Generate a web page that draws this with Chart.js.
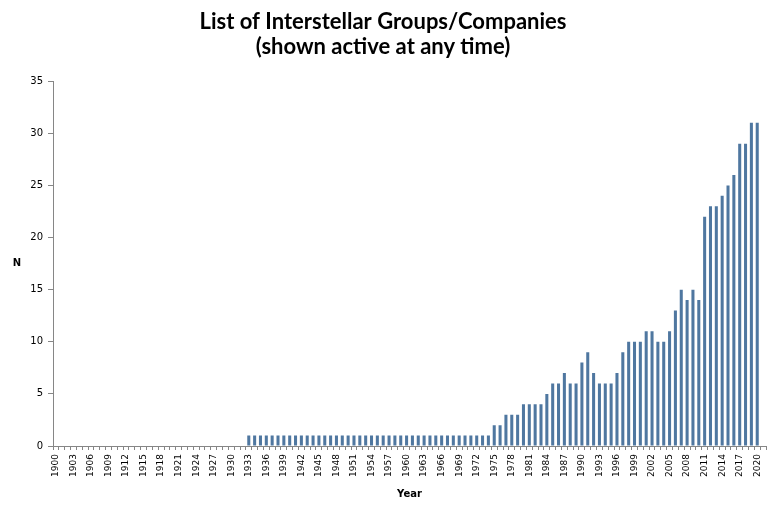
<!DOCTYPE html>
<html>
<head>
<meta charset="utf-8">
<script src="https://cdn.jsdelivr.net/npm/chart.js@4.4.1/dist/chart.umd.min.js"></script>
<style>
  html, body { margin: 0; padding: 0; background: #ffffff; }
  #wrap { width: 772px; height: 512px; }
</style>
</head>
<body>
<div id="wrap"><canvas id="myChart" width="772" height="512"></canvas></div>
<script>
// categories: one per year, 1900..2021 (last slot is empty in the original)
const firstYear = 1900;
const lastYear = 2021;
const years = [];
for (let y = firstYear; y <= lastYear; y++) years.push(String(y));

// groups active
const active1900to1932 = [0, 0, 0, 0, 0, 0, 0, 0, 0, 0, 0, 0, 0, 0, 0, 0, 0, 0, 0, 0,
  0, 0, 0, 0, 0, 0, 0, 0, 0, 0, 0, 0, 0];
const active1933to1974 = [1, 1, 1, 1, 1, 1, 1, 1, 1, 1, 1, 1, 1, 1, 1, 1, 1, 1, 1, 1,
  1, 1, 1, 1, 1, 1, 1, 1, 1, 1, 1, 1, 1, 1, 1, 1, 1, 1, 1, 1, 1, 1];
const active1975to2020 = [2, 2, 3, 3, 3, 4, 4, 4, 4, 5, 6, 6, 7, 6, 6, 8, 9, 7, 6, 6,
  6, 7, 9, 10, 10, 10, 11, 11, 10, 10, 11, 13, 15, 14, 15, 14, 22, 23, 23, 24,
  25, 26, 29, 29, 31, 31];
const active2021 = [null];
const activeCounts = active1900to1932.concat(active1933to1974, active1975to2020, active2021);

const yTicks = { min: 0, max: 35, step: 5 };

const axisGrey = "#868686";

const yAxisLabel = {
  id: "yAxisLabel",
  afterDraw(chart) {
    const ctx = chart.ctx;
    const area = chart.chartArea;
    ctx.save();
    ctx.font = "bold 10px 'DejaVu Sans'";
    ctx.fillStyle = "#000000";
    ctx.textAlign = "center";
    ctx.textBaseline = "middle";
    ctx.fillText("N", 17, (area.top + area.bottom) / 2);
    ctx.restore();
  }
};

const myChart = new Chart(document.getElementById("myChart"), {
  type: "bar",
  data: {
    labels: years,
    datasets: [{
      label: "N",
      data: activeCounts,
      backgroundColor: "#4f77a0",
      borderWidth: 0,
      categoryPercentage: 1.0,
      barPercentage: 0.52
    }]
  },
  options: {
    responsive: false,
    animation: false,
    layout: { padding: { top: 0, left: 0, right: 6, bottom: 6 } },
    plugins: {
      legend: { display: false },
      tooltip: { enabled: false },
      title: {
        display: true,
        text: ["List of Interstellar Groups/Companies", "(shown active at any time)"],
        color: "#000000",
        font: { family: "Lato", size: 22, weight: "bold", lineHeight: 1.14 },
        padding: { top: 9, bottom: 22 }
      }
    },
    scales: {
      x: {
        grid: {
          display: true,
          offset: true,
          drawOnChartArea: false,
          color: axisGrey,
          tickLength: 4
        },
        border: { color: axisGrey },
        ticks: {
          autoSkip: false,
          minRotation: 90,
          maxRotation: 90,
          padding: 4,
          color: "#000000",
          font: { family: "DejaVu Sans", size: 9 },
          callback: (v, i) => (i % 3 === 0 ? years[i] : "")
        },
        title: {
          display: true,
          text: "Year",
          color: "#000000",
          font: { family: "DejaVu Sans", size: 10, weight: "bold" },
          padding: { top: 8, bottom: 6 }
        },
        afterFit: (scale) => {
          scale.height = 60;
          scale.paddingRight = 0;
        }
      },
      y: {
        min: yTicks.min,
        max: yTicks.max,
        grid: {
          display: true,
          drawOnChartArea: false,
          color: axisGrey,
          tickLength: 5
        },
        border: { color: axisGrey },
        ticks: {
          stepSize: yTicks.step,
          padding: 5,
          color: "#000000",
          font: { family: "DejaVu Sans", size: 10 }
        },
        afterFit: (scale) => { scale.width = 53; }
      }
    }
  },
  plugins: [yAxisLabel]
});
</script>
</body>
</html>
